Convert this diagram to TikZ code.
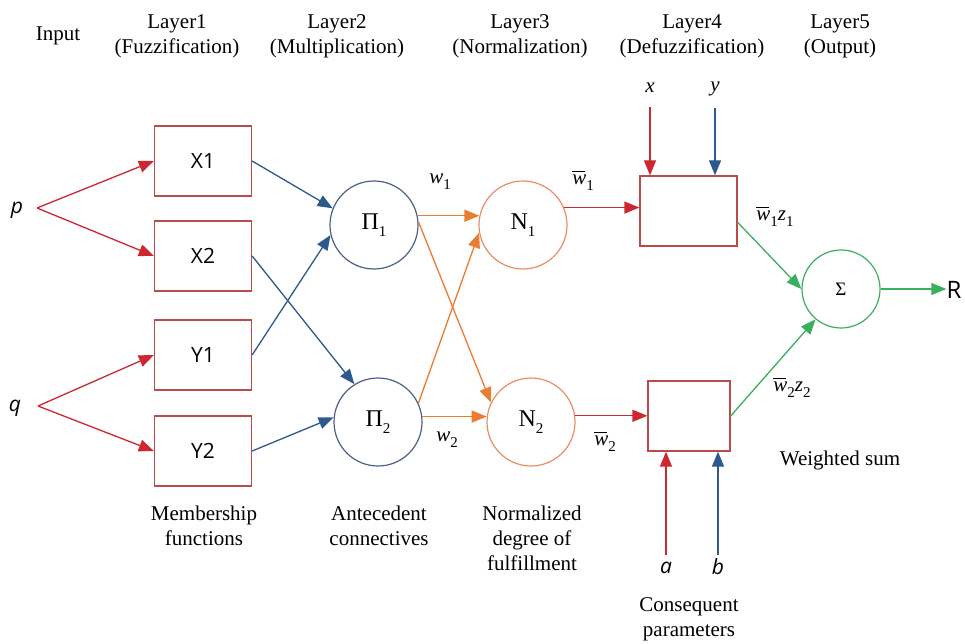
\documentclass[tikz,border=0pt]{standalone}
\usepackage{fontspec}
\setmainfont{Liberation Serif}
\newfontfamily\osans{Open Sans}
\usetikzlibrary{arrows.meta,calc}
\definecolor{boxred}{RGB}{185,75,75}
\definecolor{arrred}{RGB}{205,40,50}
\definecolor{arrblue}{RGB}{45,90,140}
\definecolor{circblue}{RGB}{75,95,135}
\definecolor{arrorange}{RGB}{235,125,50}
\definecolor{ncirc}{RGB}{235,140,100}
\definecolor{arrgreen}{RGB}{60,175,95}
\newcommand\sbs[1]{\raisebox{-0.28em}{\fontsize{15}{15}\selectfont #1}}
\newcommand\wbar{\leavevmode\rlap{\raisebox{0.6em}{\rule{0.62em}{0.05em}}}\textit{w}}
\begin{document}
\begin{tikzpicture}[x=1pt,y=-1pt,
  mfbox/.style={draw=boxred, line width=1.3pt, minimum width=97pt, minimum height=70pt, inner sep=0pt, font=\osans\fontsize{21}{25}\selectfont},
  circ/.style={circle, line width=1.2pt, minimum size=88pt, inner sep=0pt, font=\fontsize{24}{28}\selectfont},
  arr/.style={-{Triangle[length=15pt,width=12pt]}, line width=1.3pt},
  txt/.style={font=\fontsize{21}{25}\selectfont, align=center, inner sep=0pt},
  mlbl/.style={font=\fontsize{21}{24}\selectfont, inner sep=0pt},
  slbl/.style={font=\osans\itshape\fontsize{21}{25}\selectfont, inner sep=0pt}]
\useasboundingbox (0,0) rectangle (965,644);
% header
\node[txt] (hin) at (58,36) {Input};
\node[txt] (h1) at (177,36.5) {Layer1\\(Fuzzification)};
\node[txt] (h2) at (337,36.5) {Layer2\\(Multiplication)};
\node[txt] (h3) at (520,36.5) {Layer3\\(Normalization)};
\node[txt] (h4) at (692,36.5) {Layer4\\(Defuzzification)};
\node[txt] (h5) at (840,36.5) {Layer5\\(Output)};
% inputs
\node[slbl] (p) at (17,210) {p};
\node[slbl] (q) at (15,408) {q};
\coordinate (pj) at (37,208);
\coordinate (qj) at (38,406);
% layer 1
\node[mfbox] (X1) at (203,161) {X1};
\node[mfbox] (X2) at (203,256) {X2};
\node[mfbox] (Y1) at (203,355) {Y1};
\node[mfbox] (Y2) at (203,451) {Y2};
% layer 2
\node[circ, draw=circblue] (P1) at (374,225) {Π\sbs{1}};
\node[circ, draw=circblue] (P2) at (378,422) {Π\sbs{2}};
% layer 3
\node[circ, draw=ncirc] (N1) at (523,225) {N\sbs{1}};
\node[circ, draw=ncirc] (N2) at (531,422) {N\sbs{2}};
% layer 4
\node[draw=boxred, line width=1.3pt, minimum width=97pt, minimum height=70pt, inner sep=0pt] (B1) at (688.5,211) {};
\node[draw=boxred, line width=1.3pt, minimum width=82pt, minimum height=70pt, inner sep=0pt] (B2) at (689,416) {};
% layer 5
\node[circle, draw=arrgreen, line width=1.2pt, minimum size=78pt, inner sep=0pt, font=\fontsize{19}{22}\selectfont] (S) at (841,289) {Σ};
\node[font=\osans\fontsize{24}{28}\selectfont, inner sep=0pt] (R) at (954,290) {R};
% x y a b
\node[font=\fontsize{21}{24}\selectfont\itshape, inner sep=0pt] (xl) at (650,88) {x};
\node[font=\fontsize{21}{24}\selectfont\itshape, inner sep=0pt] (yl) at (715,89) {y};
\coordinate (xs) at (650,107);
\coordinate (ys) at (715,108);
\node[slbl] (al) at (666,568) {a};
\node[slbl] (bl) at (718,567) {b};
\coordinate (as) at (666,555);
\coordinate (bs) at (718,555);
% red input arrows
\draw[arr, draw=arrred, fill=arrred] (pj) -- (X1.west);
\draw[arr, draw=arrred, fill=arrred] (pj) -- (X2.west);
\draw[arr, draw=arrred, fill=arrred] (qj) -- (Y1.west);
\draw[arr, draw=arrred, fill=arrred] (qj) -- (Y2.west);
% blue arrows
\draw[arr, draw=arrblue, fill=arrblue] (X1.east) -- (P1.158);
\draw[arr, draw=arrblue, fill=arrblue] (Y1.east) -- (P1.193);
\draw[arr, draw=arrblue, fill=arrblue] (X2.east) -- (P2.122);
\draw[arr, draw=arrblue, fill=arrblue] (Y2.east) -- (P2.174);
% orange arrows
\draw[arr, draw=arrorange, fill=arrorange] (P1.12) -- (N1.168);
\draw[arr, draw=arrorange, fill=arrorange] (P1.4) -- (N2.154);
\draw[arr, draw=arrorange, fill=arrorange] (P2.25) -- (N1.190);
\draw[arr, draw=arrorange, fill=arrorange] (P2.7) -- (N2.173);
% red to layer 4
\draw[arr, draw=arrred, fill=arrred] (N1.23) -- (N1.23 -| B1.west);
\draw[arr, draw=arrred, fill=arrred] (N2.8) -- (N2.8 -| B2.west);
\draw[arr, draw=arrred, fill=arrred] (xs) -- (xs |- B1.north);
\draw[arr, draw=arrblue, fill=arrblue] (ys) -- (ys |- B1.north);
\draw[arr, draw=arrred, fill=arrred] (as) -- (as |- B2.south);
\draw[arr, draw=arrblue, fill=arrblue] (bs) -- (bs |- B2.south);
% green
\draw[arr, draw=arrgreen, fill=arrgreen] (B1.-13) -- (S.180);
\draw[arr, draw=arrgreen, fill=arrgreen] (B2.east) -- (S.230);
\draw[arr, draw=arrgreen, fill=arrgreen] (S.east) -- (S.east -| R.west);
% edge labels
\node[mlbl] (lw1) at (440,182) {\textit{w}\sbs{1}};
\node[mlbl] (lw2) at (447,440) {\textit{w}\sbs{2}};
\node[mlbl] (lwb1) at (583,181) {\wbar\sbs{1}};
\node[mlbl] (lwb2) at (605,442) {\wbar\sbs{2}};
\node[mlbl] (lz1) at (775,217) {\wbar\sbs{1}\textit{z}\sbs{1}};
\node[mlbl] (lz2) at (792,388) {\wbar\sbs{2}\textit{z}\sbs{2}};
% bottom texts
\node[txt] (t1) at (204,525.5) {Membership\\functions};
\node[txt] (t2) at (379,525.5) {Antecedent\\connectives};
\node[txt] (t3) at (532,538) {Normalized\\degree of\\fulfillment};
\node[txt] (t4) at (840,460) {Weighted sum};
\node[txt] (t5) at (689,619.5) {Consequent\\parameters};
\end{tikzpicture}
\end{document}
